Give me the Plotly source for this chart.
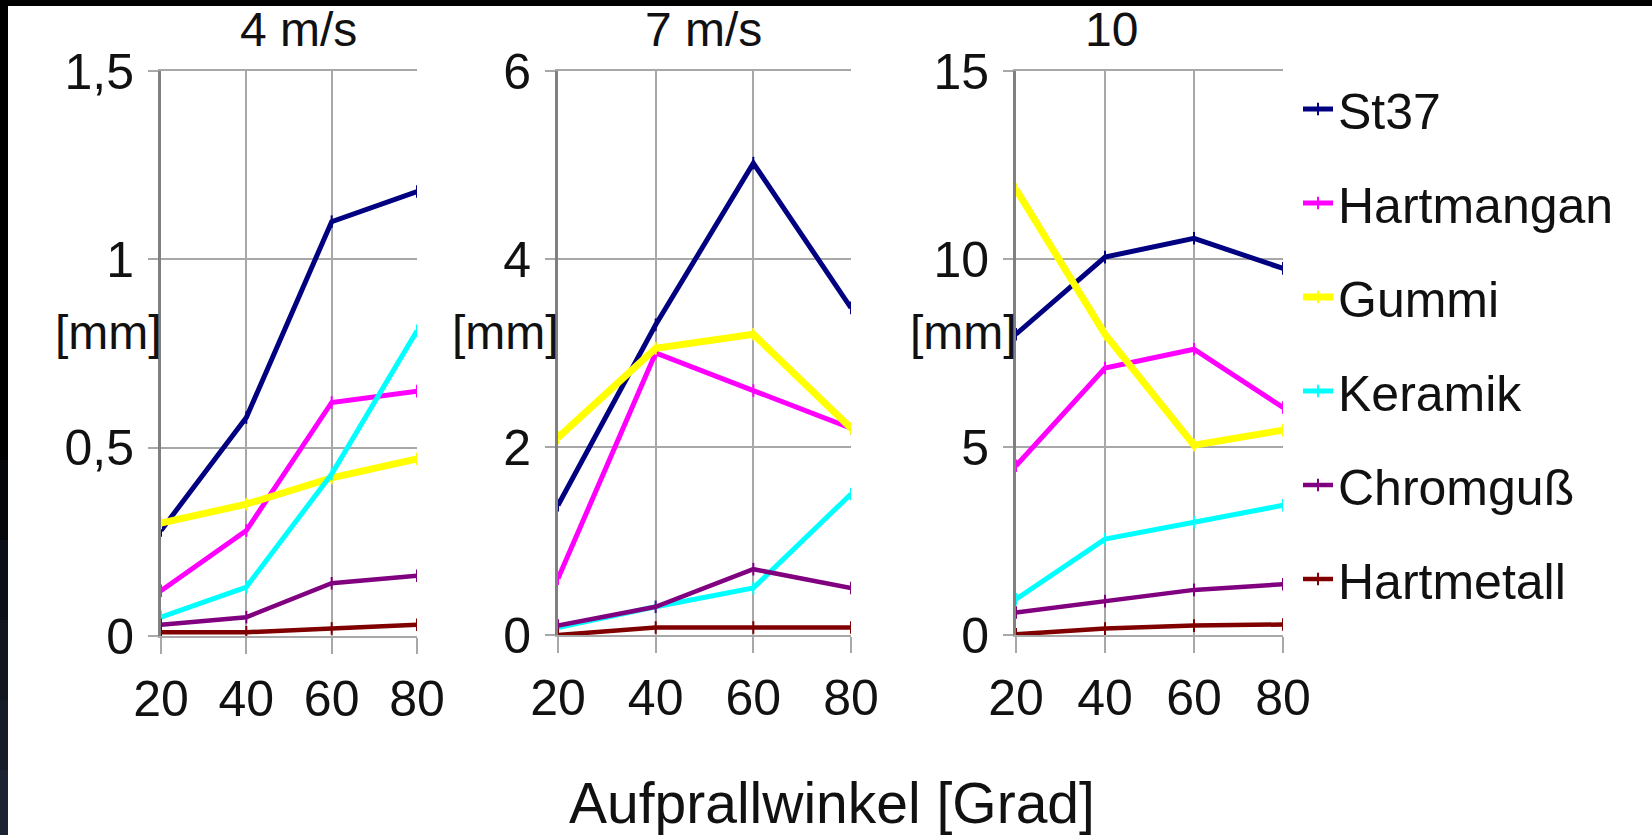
import plotly.graph_objects as go

# ---------------- data ----------------
angles = [20, 40, 60, 80]
panel_titles = ["4 m/s", "7 m/s", "10"]
materials = ["St37", "Hartmangan", "Gummi", "Keramik", "Chromguß", "Hartmetall"]
y_tops = [1.5, 6, 15]
y_steps = [0.5, 2, 5]

# 4 m/s
v4_st37 = [0.28, 0.58, 1.10, 1.18]
v4_hartmangan = [0.12, 0.28, 0.62, 0.65]
v4_gummi = [0.30, 0.35, 0.42, 0.47]
v4_keramik = [0.05, 0.13, 0.43, 0.81]
v4_chromguss = [0.03, 0.05, 0.14, 0.16]
v4_hartmetall = [0.01, 0.01, 0.02, 0.03]

# 7 m/s
v7_st37 = [1.38, 3.3, 5.02, 3.48]
v7_hartmangan = [0.6, 3.0, 2.6, 2.2]
v7_gummi = [2.1, 3.05, 3.2, 2.2]
v7_keramik = [0.08, 0.3, 0.5, 1.5]
v7_chromguss = [0.1, 0.3, 0.7, 0.5]
v7_hartmetall = [0.0, 0.08, 0.08, 0.08]

# 10
v10_st37 = [8.0, 10.05, 10.55, 9.75]
v10_hartmangan = [4.5, 7.1, 7.6, 6.05]
v10_gummi = [11.85, 8.0, 5.05, 5.45]
v10_keramik = [0.95, 2.55, 3.0, 3.45]
v10_chromguss = [0.6, 0.9, 1.2, 1.35]
v10_hartmetall = [0.02, 0.17, 0.25, 0.28]

panel_values = [
    [v4_st37, v4_hartmangan, v4_gummi, v4_keramik, v4_chromguss, v4_hartmetall],
    [v7_st37, v7_hartmangan, v7_gummi, v7_keramik, v7_chromguss, v7_hartmetall],
    [v10_st37, v10_hartmangan, v10_gummi, v10_keramik, v10_chromguss, v10_hartmetall],
]

# ---------------- style ----------------
colors = ["#000080", "#ff00ff", "#ffff00", "#00ffff", "#800080", "#800000"]
widths = [5, 5, 7, 5, 4.5, 4.5]
FONT = "Liberation Sans, Arial, sans-serif"
TXT = "#111111"
GRID = "#a8a8a8"
AXIS = "#808080"

W, H = 1652, 835
def fx(px):
    return px / W
def fy(py):
    return 1 - py / H

# pixel boxes of the three plot areas: (left, right, top, bottom)
boxes = [(161, 417, 71, 636), (558, 851, 71, 635), (1016, 1283, 71, 635)]
title_x = [298, 703, 1111]

fig = go.Figure()
layout = dict(
    width=W, height=H,
    margin=dict(l=0, r=0, t=0, b=0, autoexpand=False),
    paper_bgcolor="white", plot_bgcolor="white",
    separators=",.",
    font=dict(family=FONT, color=TXT, size=50),
    showlegend=True,
    legend=dict(
        x=fx(1298), y=fy(70), xanchor="left", yanchor="top",
        font=dict(family=FONT, size=50, color=TXT),
        bgcolor="rgba(0,0,0,0)", tracegroupgap=26, itemwidth=30,
        traceorder="grouped",
    ),
    annotations=[], shapes=[],
)

for p in range(3):
    sfx = "" if p == 0 else str(p + 1)
    x0, x1, t, b = boxes[p]
    layout["xaxis" + sfx] = dict(
        domain=[fx(x0), fx(x1)], range=[20, 80], tickvals=angles,
        anchor="y" + sfx, showgrid=True, gridcolor=GRID, gridwidth=2,
        showline=True, linecolor=GRID, linewidth=2, mirror=True,
        ticks="outside", ticklen=16, tickwidth=2, tickcolor=GRID,
        tickfont=dict(size=50, family=FONT, color=TXT),
        ticklabelstandoff=2, zeroline=False, fixedrange=True,
    )
    layout["yaxis" + sfx] = dict(
        domain=[fy(b), fy(t)], range=[0, y_tops[p]], dtick=y_steps[p], tick0=0,
        anchor="x" + sfx, showgrid=True, gridcolor=GRID, gridwidth=2,
        showline=True, linecolor=AXIS, linewidth=3, mirror=False,
        ticks="outside", ticklen=10, tickwidth=2, tickcolor=GRID,
        tickfont=dict(size=50, family=FONT, color=TXT),
        ticklabelstandoff=4, zeroline=False, fixedrange=True,
    )
    for m in range(6):
        fig.add_trace(go.Scatter(
            x=angles, y=panel_values[p][m], name=materials[m],
            xaxis="x" + sfx, yaxis="y" + sfx,
            mode="lines+markers",
            line=dict(color=colors[m], width=widths[m]),
            marker=dict(symbol="line-ns", size=9, color=colors[m],
                        line=dict(width=2, color=colors[m])),
            legendgroup=materials[m], showlegend=(p == 0),
            hoverinfo="skip",
        ))
    layout["annotations"].append(dict(
        text=panel_titles[p], x=fx(title_x[p]), y=fy(29), xref="paper", yref="paper",
        xanchor="center", yanchor="middle", showarrow=False,
        font=dict(size=48, family=FONT, color=TXT)))
    layout["annotations"].append(dict(
        text="[mm]", x=fx(x0 + 3), y=fy(332), xref="paper", yref="paper",
        xanchor="right", yanchor="middle", showarrow=False,
        font=dict(size=48, family=FONT, color=TXT)))

layout["annotations"].append(dict(
    text="Aufprallwinkel [Grad]", x=fx(832), y=fy(803), xref="paper", yref="paper",
    xanchor="center", yanchor="middle", showarrow=False,
    font=dict(size=57, family=FONT, color=TXT)))

# dark frame of the picture (top bar and left strip)
layout["shapes"].append(dict(type="rect", xref="paper", yref="paper",
                             x0=0, x1=1, y0=fy(6), y1=1, fillcolor="#000000",
                             line=dict(width=0), layer="above"))
strip = [("#000000", 0, 460), ("#05070b", 460, 540), ("#0b0f17", 540, 620),
         ("#11161f", 620, 700), ("#161c28", 700, 770), ("#1b2332", 770, 835)]
for c, a, z in strip:
    layout["shapes"].append(dict(type="rect", xref="paper", yref="paper",
                                 x0=0, x1=fx(8), y0=fy(z), y1=fy(a), fillcolor=c,
                                 line=dict(width=0), layer="above"))

fig.update_layout(**layout)
fig.write_html("out.html", config={"displayModeBar": False, "staticPlot": True},
               post_script="document.body.style.margin='0';document.body.style.overflow='hidden';")
